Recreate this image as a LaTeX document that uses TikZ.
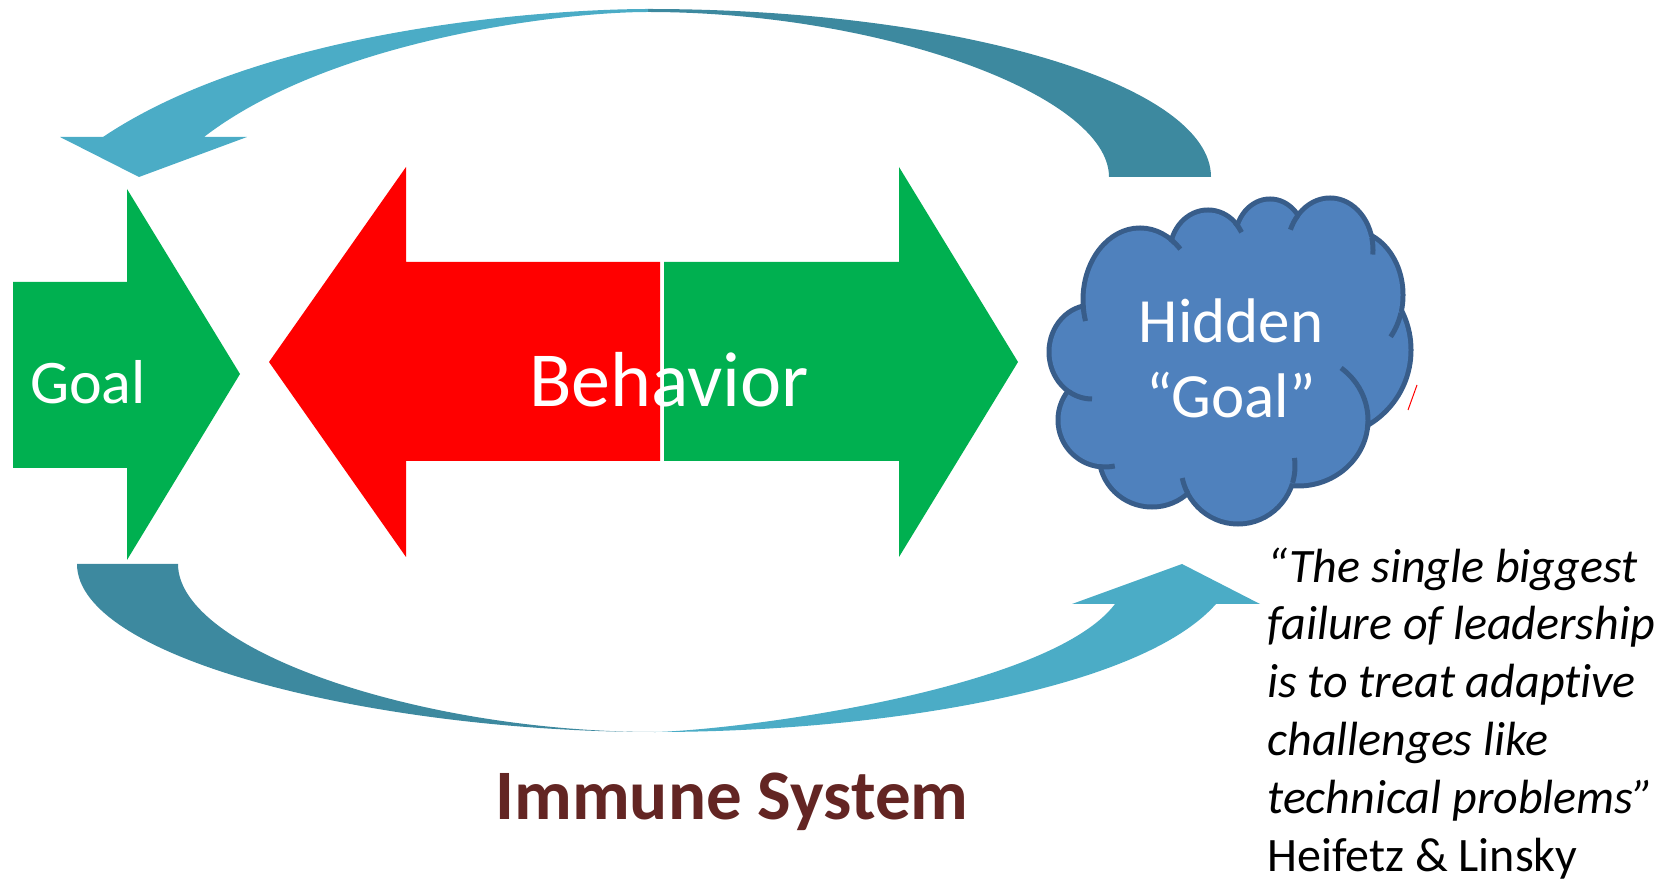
\documentclass[tikz,border=0pt]{standalone}
\usepackage{fontspec}
\setmainfont{Carlito}[Ligatures={NoCommon,NoRequired,NoContextual}]
\usetikzlibrary{positioning}
\definecolor{goalgreen}{RGB}{0,176,80}
\definecolor{arclight}{RGB}{75,172,198}
\definecolor{arcdark}{RGB}{61,137,159}
\definecolor{cloudfill}{RGB}{79,129,189}
\definecolor{cloudline}{RGB}{56,93,138}
\definecolor{immune}{RGB}{99,37,35}
\newcommand\headtop{167}
\newcommand\headbot{557}
\newcommand\bodytop{262}
\newcommand\bodybot{461}
\newcommand\split{660}
% puffs of the cloud: centre x / centre y / x radius / y radius
\newcommand\cloudpuffs{1092/352/43/47, 1105/420/47/47, 1152/455/53/52, 1238/466/57/58,
  1298/420/70/66, 1324/350/87/87, 1350/295/53/65, 1330/250/43/52, 1270/240/35/41,
  1208/252/38/42, 1140/300/57/72}
% short inner strokes: puff / start angle / end angle
\newcommand\cloudticks{1092/352/43/47/122/90, 1105/420/47/47/97/78, 1238/466/57/58/152/168,
  1238/466/57/58/17/-8, 1298/420/70/66/8/-52, 1350/295/53/65/16/40, 1330/250/43/52/-14/5,
  1330/250/43/52/221/203, 1208/252/38/42/-44/-28, 1140/300/57/72/-58/-45, 1140/300/57/72/176/163}
\tikzset{
  arrowtext/.style={text=white, inner sep=0pt, anchor=base},
  quoteline/.style={anchor=base west, inner sep=0pt, font=\fontsize{24}{29}\selectfont\itshape},
}

\begin{document}
\begin{tikzpicture}[x=0.5pt,y=-0.5pt]
    \useasboundingbox (0,0) rectangle (1665,881);
    % --- Top loop arrow
    \fill[arcdark] (1211,177) .. controls (1211,85) and (960,9) .. (648,9) -- (648,12) .. controls (880,12) and (1109,95) .. (1109,177) -- cycle;
    \fill[arclight] (648,9) .. controls (560,9) and (270,25) .. (103,137) -- (60,137) -- (139,177) -- (247,137) -- (204,137) .. controls (330,40) and (560,12) .. (648,12) -- cycle;
    % --- Bottom loop arrow
    \fill[arcdark] (77,564) -- (178,564) .. controls (178,650) and (420,732) .. (655,732) .. controls (380,732) and (77,660) .. (77,564) -- cycle;
    \fill[arclight] (655,732) .. controls (880,732) and (1140,690) .. (1216,604) -- (1260,604) -- (1182,564) -- (1072,604) -- (1115,604) .. controls (1050,690) and (740,730) .. (655,732) -- cycle;
    % --- Goal arrow
    \fill[goalgreen] (13,282) -- (127,282) -- (127,189) -- (240,374) -- (127,560) -- (127,468) -- (13,468) -- cycle;
    \node[arrowtext, font=\fontsize{31}{37}\selectfont] (goal) at (88,404) {Goal};
    % --- Behavior double arrow
    \fill[red] (269,362) -- (406,\headtop) -- (406,\bodytop) -- (\split,\bodytop) -- (\split,\bodybot) -- (406,\bodybot) -- (406,\headbot) -- cycle;
    \fill[goalgreen] (\split+4,\bodytop) -- (899,\bodytop) -- (899,\headtop) -- (1018,362) -- (899,\headbot) -- (899,\bodybot) -- (\split+4,\bodybot) -- cycle;
    \node[arrowtext, font=\fontsize{39}{47}\selectfont] (behavior) at (669,407) {Behavior};
    % --- Cloud: outlines, then fills hide the inner halves
    \foreach \cx/\cy/\rx/\ry in \cloudpuffs {
        \pgfmathsetmacro\ax{\rx-2.5}
        \pgfmathsetmacro\ay{\ry-2.5}
        \draw[cloudline, line width=5pt, fill=cloudfill] (\cx,\cy) ellipse [x radius=\ax, y radius=\ay];
    }
    \foreach \cx/\cy/\rx/\ry in \cloudpuffs {
        \pgfmathsetmacro\ax{\rx-2.5}
        \pgfmathsetmacro\ay{\ry-2.5}
        \fill[cloudfill] (\cx,\cy) ellipse [x radius=\ax, y radius=\ay];
    }
    \fill[cloudfill] (1232,362) ellipse [x radius=150, y radius=110];
    \foreach \cx/\cy/\rx/\ry/\ta/\tb in \cloudticks
        \draw[cloudline, line width=2.5pt] (\cx,\cy) ++({\rx*cos(\ta)},{\ry*sin(\ta)}) arc[start angle=\ta, end angle=\tb, x radius=\rx, y radius=\ry];
    \node[arrowtext, font=\fontsize{31.5}{38}\selectfont] (hidden) at (1231,343) {Hidden};
    \node[arrowtext, font=\fontsize{31.5}{38}\selectfont] (hiddengoal) at (1231,418) {“Goal”};
    \draw[red, line width=0.5pt] (1417,385) -- (1408,410);
    % --- Caption
    \node[anchor=base, inner sep=0pt, text=immune, font=\fontsize{35.5}{42}\selectfont\bfseries] (immune) at (732,819) {Immune System};
    % --- Quote
    \foreach \txt [count=\i from 0] in {“The single biggest, failure of leadership, is to treat adaptive, challenges like, technical problems”}
        \node[quoteline] (quote\i) at (1267,{582+57.8*\i}) {\txt};
    \node[quoteline, font=\fontsize{24}{29}\selectfont\upshape] (author) at (1267,871) {Heifetz \& Linsky};
\end{tikzpicture}
\end{document}
